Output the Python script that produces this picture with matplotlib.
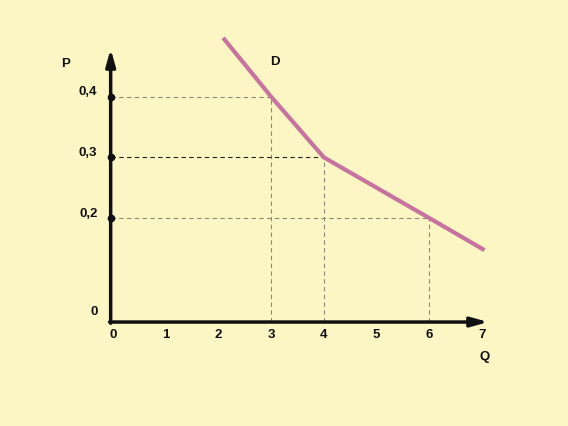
import matplotlib.pyplot as plt

# demand curve D (kinked at Q=4)
q_curve = [2.09, 3, 4, 6, 7.05]
p_curve = [0.497, 0.4, 0.3, 0.2, 0.147]

# guide points
q_marks = [3, 4, 6]
p_marks = [0.4, 0.3, 0.2]
p_labels = ["0,4", "0,3", "0,2"]
q_ticks = [0, 1, 2, 3, 4, 5, 6, 7]

bg = "#fbf6c4"
fig = plt.figure(figsize=(5.68, 4.26), dpi=100, facecolor=bg)
ax = fig.add_axes([0, 0, 1, 1])
ax.set_facecolor(bg)
ax.set_xlim(-2.144, 8.634)
ax.set_ylim(-0.1429, 0.5594)
ax.axis("off")

x0 = -0.044   # y axis position
y0 = 0.0285   # x axis position

# dashed guides
guide_cols = ["#8a8a7a", "#222222", "#8a8a7a"]
for q, p, c in zip(q_marks, p_marks, guide_cols):
    ax.plot([x0, q], [p, p], ls=(0, (4, 3)), lw=0.8, color=c)
    ax.plot([q, q], [y0, p], ls=(0, (4, 3)), lw=0.8, color="#8a8a7a")

# axes with arrows
ax.annotate("", xy=(x0, 0.479), xytext=(x0, y0 - 0.002),
            arrowprops=dict(arrowstyle="-|>,head_length=1.0,head_width=0.28",
                            lw=2.5, color="#111111", shrinkA=0, shrinkB=0))
ax.annotate("", xy=(7.12, y0), xytext=(x0 - 0.02, y0),
            arrowprops=dict(arrowstyle="-|>,head_length=1.0,head_width=0.28",
                            lw=2.5, color="#111111", shrinkA=0, shrinkB=0))

# dots on the P axis
ax.plot([x0] * len(p_marks), p_marks, "o", ms=4.5, color="#111111")

# curve
ax.plot(q_curve, p_curve, color="#c7739f", lw=3.0, solid_capstyle="butt")

font = dict(fontsize=9.5, fontweight="bold", family="Liberation Sans", color="#111111")
for p, lab in zip(p_marks, p_labels):
    ax.text(x0 - 0.25, p + 0.007, lab, ha="right", va="center", **font)
for q in q_ticks:
    ax.text(q, y0 - 0.022, str(q), ha="center", va="center", **font)
ax.text(x0 - 0.25, y0 + 0.016, "0", ha="right", va="center", **font)
ax.text(-0.9, 0.454, "P", ha="center", va="center", **font)
ax.text(3.07, 0.457, "D", ha="center", va="center", **font)
ax.text(7.06, -0.029, "Q", ha="center", va="center", **font)

fig.savefig("out.png", dpi=100, facecolor=bg)
